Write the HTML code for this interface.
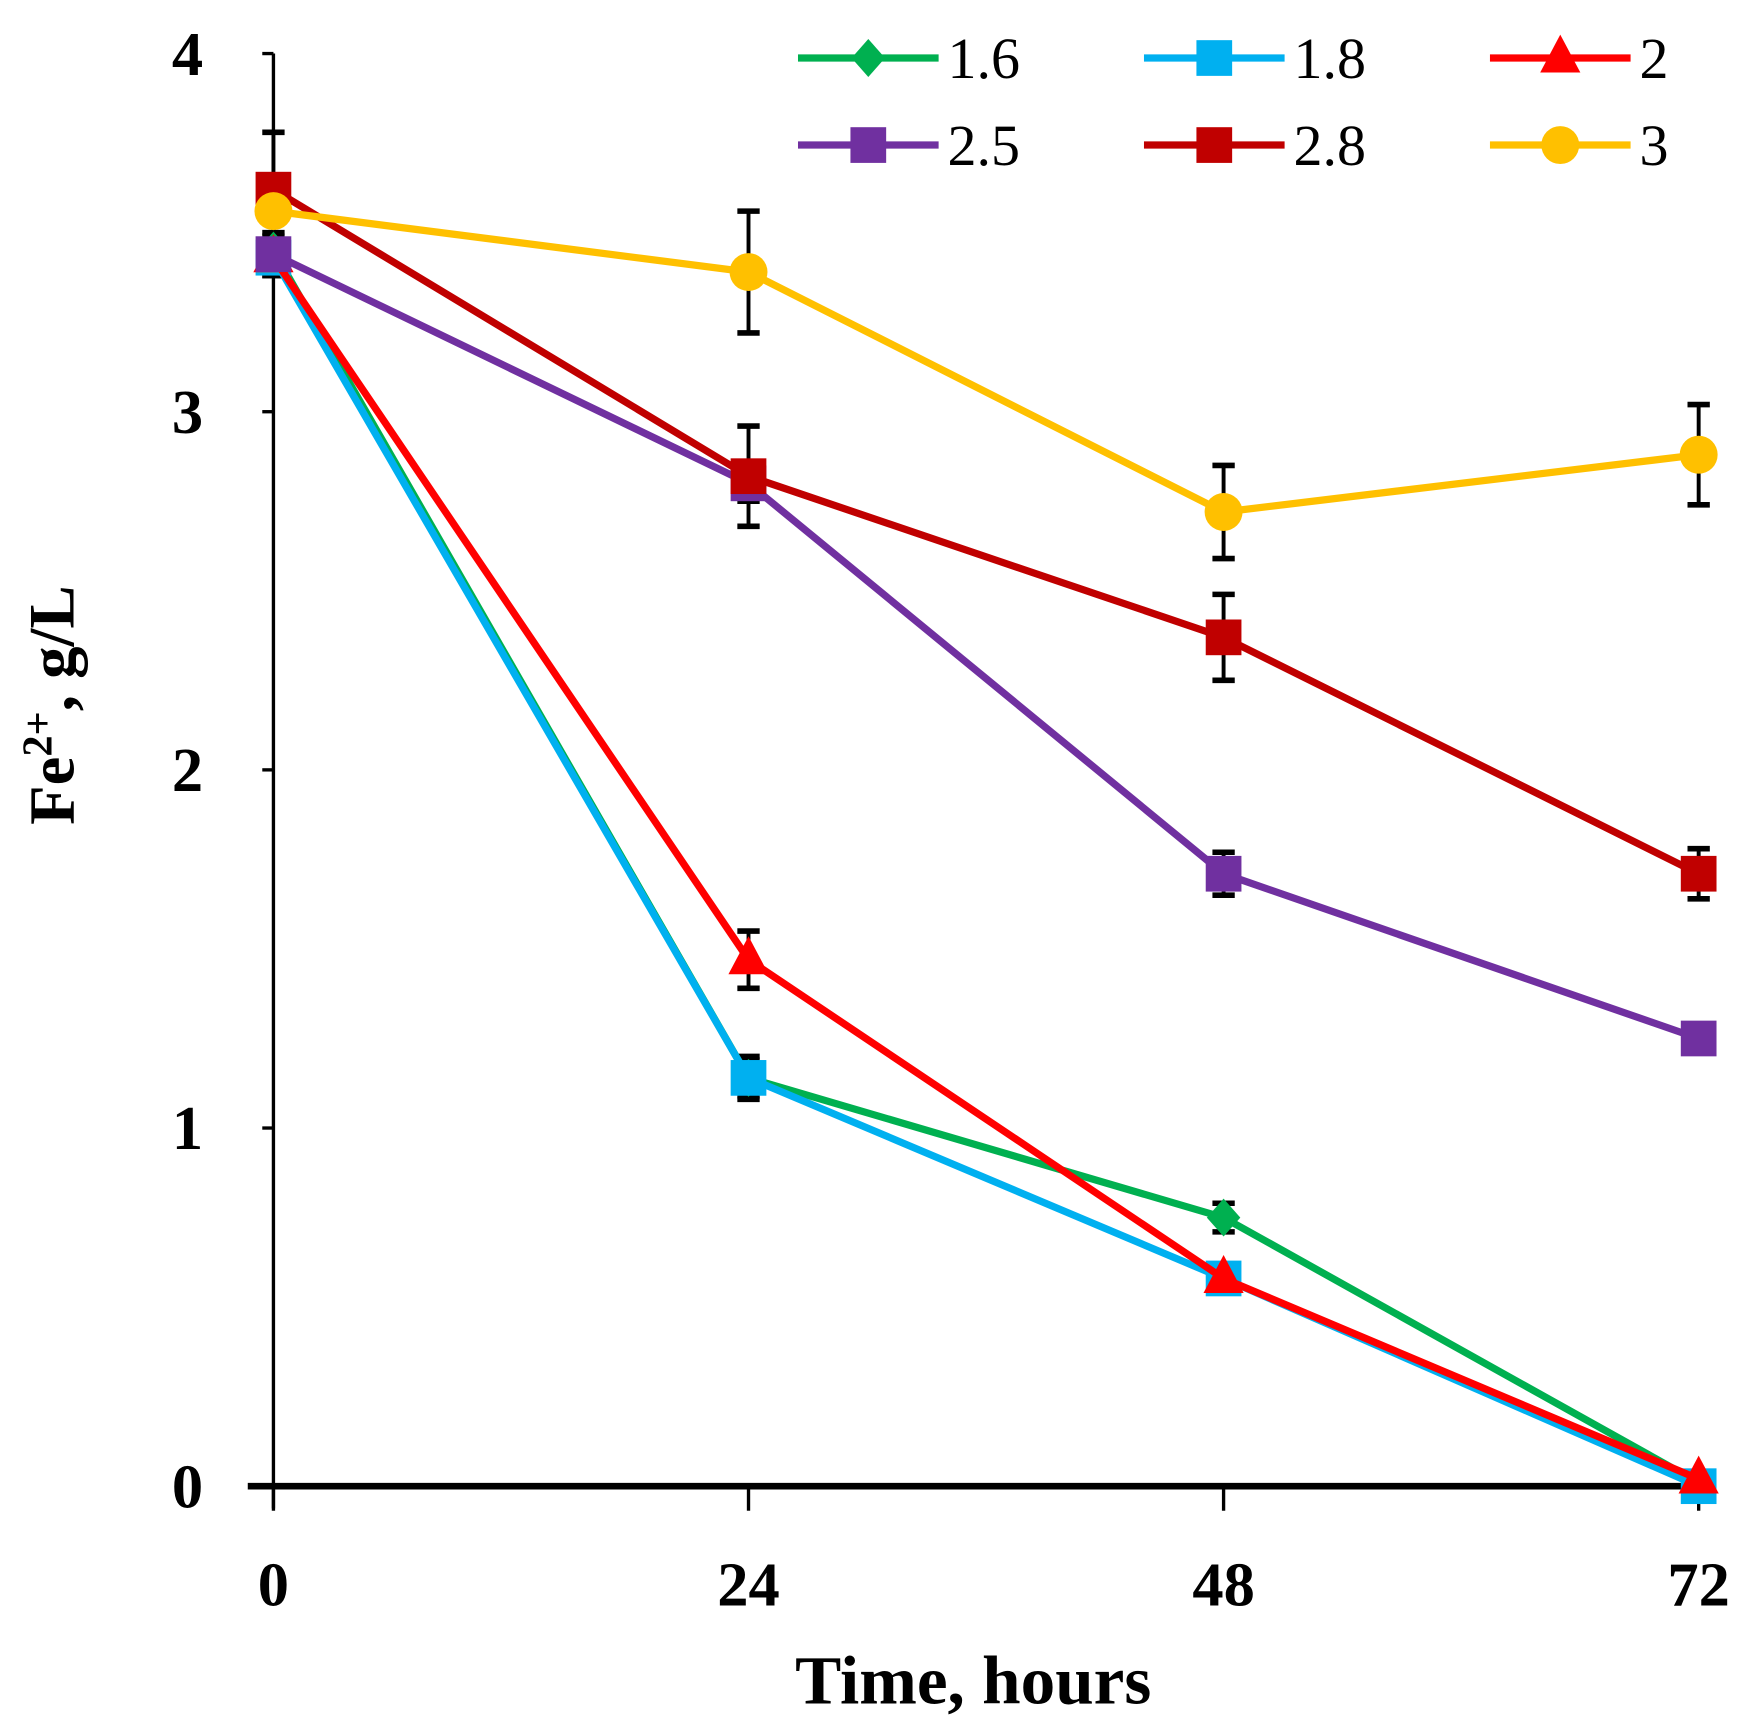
<!DOCTYPE html>
<html><head><meta charset="utf-8"><style>html,body{margin:0;padding:0;background:#fff}svg{display:block}</style></head>
<body>
<svg id="chart" width="1750" height="1735" viewBox="0 0 1568 1555" preserveAspectRatio="none" xmlns="http://www.w3.org/2000/svg" font-family="'Liberation Serif', serif">
<g id="axes"></g><g id="series"></g><g id="legend"></g>
</svg>
<script>
const hours = [0, 24, 48, 72];
const yTicks = [0, 1, 2, 3, 4];
const seriesNames = ["1.6", "1.8", "2", "2.5", "2.8", "3"];
const s16 = [3.45, 1.14, 0.75, 0.01];
const s18 = [3.43, 1.14, 0.58, 0.0];
const s20 = [3.43, 1.47, 0.58, 0.02];
const s25 = [3.44, 2.80, 1.71, 1.25];
const s28 = [3.62, 2.82, 2.37, 1.71];
const s30 = [3.56, 3.39, 2.72, 2.88];
const e16 = [0.05, 0.05, 0.04, 0];
const e18 = [0.05, 0.06, 0.02, 0];
const e20 = [0.05, 0.08, 0.02, 0];
const e25 = [0.05, 0.05, 0.06, 0.04];
const e28 = [0.16, 0.14, 0.12, 0.07];
const e30 = [0.1, 0.17, 0.13, 0.14];

const NS = "http://www.w3.org/2000/svg";
const X0 = 245, X1 = 1522, Y0 = 1332, Y1 = 48;
const xs = h => X0 + (h - 0) / 72 * (X1 - X0);
const ys = v => Y0 - v / 4 * (Y0 - Y1);
function mk(parent, tag, attrs, text) {
  const el = document.createElementNS(NS, tag);
  for (const k in attrs) el.setAttribute(k, attrs[k]);
  if (text !== undefined) el.textContent = text;
  parent.appendChild(el);
  return el;
}
const axes = document.getElementById('axes');
let el = mk(axes, 'line', {x1: X0, y1: Y1, x2: X0, y2: Y0 + 20, stroke: '#000', 'stroke-width': 3});


yTicks.forEach(t => {
  const tk = mk(axes, 'line', {x1: X0 - 10, y1: ys(t), x2: X0, y2: ys(t), stroke: '#000', 'stroke-width': 3});
  
  
  const lb = mk(axes, 'text', {x: 182, y: ys(t) + 19, 'text-anchor': 'end', 'font-size': 56, 'font-weight': 'bold'}, String(t));
  
  
});
el = mk(axes, 'line', {x1: 222, y1: Y0, x2: X1, y2: Y0, stroke: '#000', 'stroke-width': 6});


hours.forEach(h => {
  const tk = mk(axes, 'line', {x1: xs(h), y1: Y0, x2: xs(h), y2: Y0 + 22, stroke: '#000', 'stroke-width': 3});
  
  
  const lb = mk(axes, 'text', {x: xs(h), y: 1439, 'text-anchor': 'middle', 'font-size': 56, 'font-weight': 'bold'}, String(h));
  
  
});
el = mk(axes, 'text', {x: 872, y: 1527, 'text-anchor': 'middle', 'font-size': 62, 'font-weight': 'bold'}, 'Time, hours');


el = mk(axes, 'text', {x: 0, y: 0, 'text-anchor': 'middle', 'font-size': 58, 'font-weight': 'bold', transform: 'translate(66,632) rotate(-90)'});


el.innerHTML = 'Fe<tspan dy="-20" font-size="38">2+</tspan><tspan dy="20">, g/L</tspan>';

const colors = ['#00b050', '#00b0f0', '#ff0000', '#7030a0', '#c00000', '#ffc000'];
const shapes = ['diamond', 'square', 'triangle', 'square', 'square', 'circle'];
const allData = [s16, s18, s20, s25, s28, s30];
const allErr = [e16, e18, e20, e25, e28, e30];
function marker(g, shape, x, y, c, s) {
  if (shape === 'square') return mk(g, 'rect', {x: x - 16 * s, y: y - 16 * s, width: 32 * s, height: 32 * s, fill: c});
  if (shape === 'circle') return mk(g, 'circle', {cx: x, cy: y, r: 17 * s, fill: c});
  if (shape === 'diamond') return mk(g, 'polygon', {points: `${x},${y-17*s} ${x+15*s},${y} ${x},${y+17*s} ${x-15*s},${y}`, fill: c});
  return mk(g, 'polygon', {points: `${x},${y-21*s} ${x+18*s},${y+13*s} ${x-18*s},${y+13*s}`, fill: c});
}
const sg = document.getElementById('series');
const eg = mk(sg, 'g', {});


allData.forEach((d, i) => {
  d.forEach((v, j) => {
    const e = allErr[i][j];
    if (!e) return;
    const x = xs(hours[j]);
    mk(eg, 'line', {x1: x, y1: ys(v + e), x2: x, y2: ys(v - e), stroke: '#000', 'stroke-width': 3.5});
    mk(eg, 'line', {x1: x - 10, y1: ys(v + e), x2: x + 10, y2: ys(v + e), stroke: '#000', 'stroke-width': 5});
    mk(eg, 'line', {x1: x - 10, y1: ys(v - e), x2: x + 10, y2: ys(v - e), stroke: '#000', 'stroke-width': 5});
  });
});
allData.forEach((d, i) => {
  const g = mk(sg, 'g', {});
  
  
  const pl = mk(g, 'polyline', {points: d.map((v, j) => xs(hours[j]) + ',' + ys(v)).join(' '), fill: 'none', stroke: colors[i], 'stroke-width': 6.5});
  
  
  d.forEach((v, j) => {
    const m = marker(g, shapes[i], xs(hours[j]), ys(v), colors[i], 1);
    
    
  });
});
const lg = document.getElementById('legend');


const colX = [715, 1025, 1335], rowY = [52, 130];
seriesNames.forEach((n, i) => {
  const x = colX[i % 3], y = rowY[Math.floor(i / 3)];
  const g = mk(lg, 'g', {});
  
  
  mk(g, 'line', {x1: x, y1: y, x2: x + 126, y2: y, stroke: colors[i], 'stroke-width': 6.5});
  marker(g, shapes[i], x + 63, y, colors[i], 1);
  mk(g, 'text', {x: x + 134, y: y + 18, 'font-size': 52}, n);
});
</script>
</body></html>
